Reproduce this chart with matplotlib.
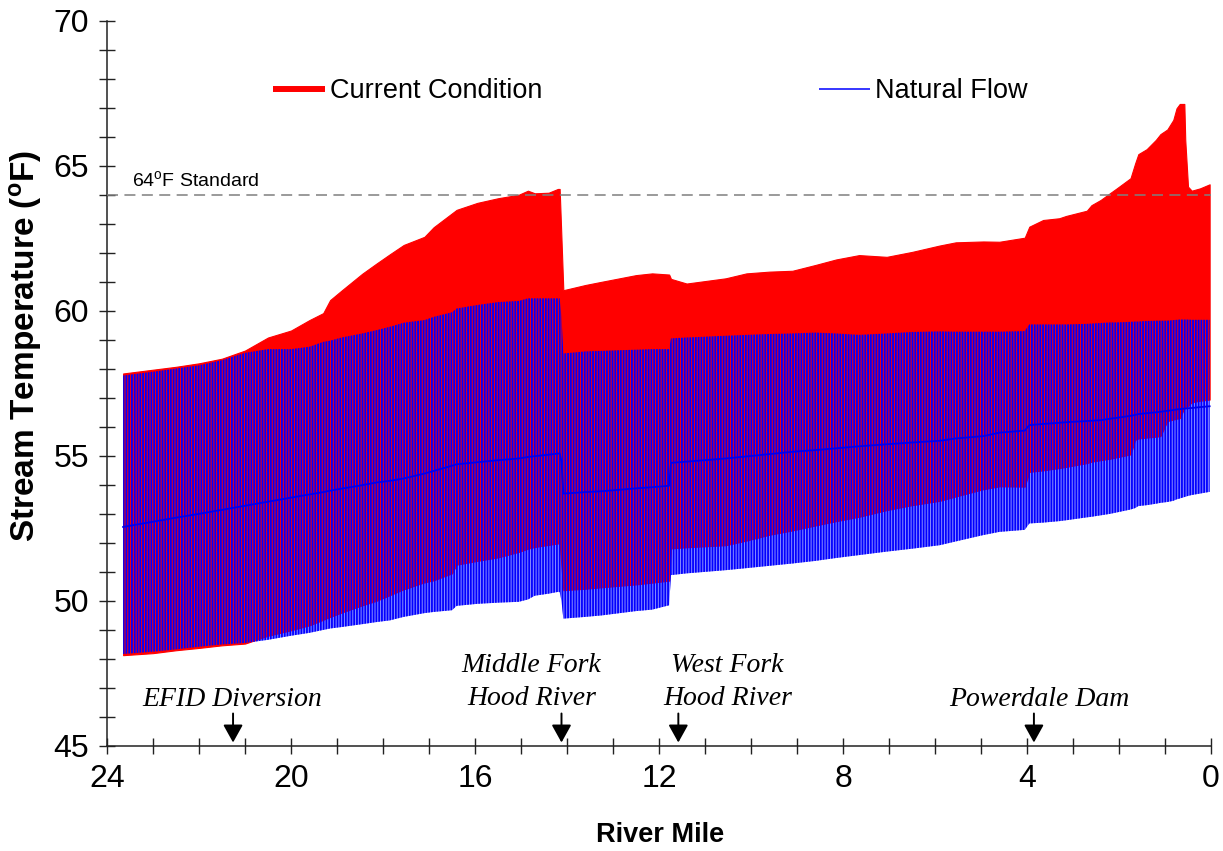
import matplotlib
matplotlib.use("Agg")
import matplotlib.pyplot as plt
from matplotlib.lines import Line2D
from matplotlib.ticker import MultipleLocator

plt.rcParams['font.family'] = ['Liberation Sans', 'DejaVu Sans']
plt.rcParams['mathtext.fontset'] = 'custom'
plt.rcParams['mathtext.rm'] = 'Liberation Sans'
plt.rcParams['mathtext.bf'] = 'Liberation Sans:bold'
plt.rcParams['mathtext.it'] = 'Liberation Sans:italic'
plt.rcParams['hatch.color'] = '#0000ff'
plt.rcParams['hatch.linewidth'] = 1.3

# ---------------- data (river mile stations, deg F) ----------------
miles = [23.65, 23.0, 22.5, 22.0, 21.5, 21.0, 20.5, 20.0, 19.6, 19.3, 19.15, 18.9,
         18.45, 18.15, 17.85, 17.55, 17.1, 16.9, 16.5, 16.4, 15.95, 15.5, 15.05,
         14.85, 14.7, 14.4, 14.2, 14.16, 14.12, 14.08, 13.6, 13.25, 12.5, 12.15,
         11.78, 11.74, 11.4, 10.55, 10.1, 9.6, 9.1, 8.6, 8.15, 7.65, 7.05, 6.5,
         5.9, 5.55, 4.95, 4.6, 4.05, 3.95, 3.65, 3.3, 3.15, 2.7, 2.6, 2.4, 2.2,
         2.05, 1.75, 1.65, 1.58, 1.4, 1.2, 1.1, 0.95, 0.82, 0.75, 0.68, 0.58,
         0.56, 0.5, 0.42, 0.24, 0.03]

current_max = [57.84, 57.97, 58.07, 58.19, 58.35, 58.63, 59.08, 59.32, 59.68, 59.92,
               60.37, 60.70, 61.28, 61.62, 61.95, 62.27, 62.55, 62.88, 63.36, 63.48,
               63.72, 63.88, 64.00, 64.14, 64.05, 64.07, 64.20, 64.20, 62.46, 60.71,
               60.89, 61.00, 61.23, 61.29, 61.25, 61.10, 60.94, 61.12, 61.29, 61.35,
               61.38, 61.58, 61.77, 61.92, 61.86, 62.03, 62.25, 62.36, 62.39, 62.38,
               62.52, 62.90, 63.13, 63.19, 63.27, 63.45, 63.64, 63.82, 64.05, 64.22,
               64.57, 65.08, 65.40, 65.57, 65.89, 66.09, 66.25, 66.58, 66.98, 67.13,
               67.13, 65.89, 64.28, 64.14, 64.22, 64.36]

current_min = [48.13, 48.20, 48.30, 48.38, 48.47, 48.53, 48.80, 48.99, 49.16, 49.35,
               49.45, 49.60, 49.85, 50.00, 50.20, 50.40, 50.64, 50.71, 50.95, 51.25,
               51.38, 51.50, 51.69, 51.80, 51.86, 51.93, 51.98, 51.98, 51.17, 50.37,
               50.42, 50.47, 50.57, 50.63, 50.70, 51.81, 51.85, 51.92, 52.08, 52.28,
               52.43, 52.60, 52.75, 52.90, 53.13, 53.30, 53.45, 53.60, 53.85, 53.95,
               53.94, 54.45, 54.50, 54.58, 54.62, 54.75, 54.80, 54.85, 54.90, 54.95,
               55.05, 55.55, 55.60, 55.63, 55.66, 55.68, 56.20, 56.25, 56.28, 56.30,
               56.65, 56.68, 56.72, 56.85, 56.90, 56.94]

natural_max = [57.77, 57.90, 58.01, 58.12, 58.30, 58.55, 58.68, 58.68, 58.76, 58.93,
               58.97, 59.08, 59.22, 59.33, 59.45, 59.59, 59.68, 59.79, 59.95, 60.08,
               60.20, 60.30, 60.34, 60.43, 60.43, 60.43, 60.43, 60.43, 59.79, 58.53,
               58.60, 58.62, 58.66, 58.68, 58.68, 59.05, 59.08, 59.14, 59.17, 59.20,
               59.22, 59.25, 59.22, 59.17, 59.22, 59.27, 59.29, 59.28, 59.28, 59.28,
               59.30, 59.53, 59.53, 59.53, 59.53, 59.55, 59.56, 59.58, 59.60, 59.60,
               59.62, 59.63, 59.63, 59.65, 59.66, 59.66, 59.66, 59.68, 59.69, 59.70,
               59.70, 59.70, 59.70, 59.69, 59.69, 59.69]

natural_mean = [52.55, 52.73, 52.87, 53.00, 53.14, 53.28, 53.42, 53.56, 53.67, 53.75,
                53.80, 53.87, 53.99, 54.08, 54.14, 54.22, 54.39, 54.48, 54.66, 54.71,
                54.78, 54.85, 54.91, 54.96, 54.99, 55.04, 55.08, 55.08, 54.80, 53.70,
                53.75, 53.78, 53.88, 53.92, 53.97, 54.76, 54.80, 54.91, 54.98, 55.06,
                55.14, 55.20, 55.26, 55.33, 55.40, 55.46, 55.52, 55.60, 55.68, 55.80,
                55.87, 56.06, 56.10, 56.14, 56.16, 56.20, 56.21, 56.23, 56.28, 56.31,
                56.38, 56.41, 56.44, 56.47, 56.50, 56.52, 56.55, 56.58, 56.60, 56.61,
                56.63, 56.63, 56.64, 56.65, 56.68, 56.71]

natural_min = [48.17, 48.25, 48.33, 48.42, 48.50, 48.55, 48.66, 48.80, 48.90, 49.00,
               49.05, 49.10, 49.20, 49.27, 49.33, 49.45, 49.58, 49.62, 49.68, 49.83,
               49.90, 49.94, 49.97, 50.05, 50.18, 50.25, 50.31, 50.31, 50.00, 49.39,
               49.45, 49.50, 49.65, 49.70, 49.85, 50.89, 50.95, 51.06, 51.13, 51.21,
               51.29, 51.38, 51.48, 51.58, 51.70, 51.80, 51.92, 52.05, 52.27, 52.38,
               52.45, 52.67, 52.70, 52.75, 52.78, 52.88, 52.90, 52.95, 53.00, 53.05,
               53.15, 53.20, 53.27, 53.30, 53.35, 53.38, 53.41, 53.45, 53.50, 53.53,
               53.58, 53.59, 53.62, 53.65, 53.70, 53.76]

standard_temp = 64
landmark_labels = ['EFID Diversion', 'Middle Fork\nHood River', 'West Fork\nHood River', 'Powerdale Dam']
landmark_miles = [21.26, 14.12, 11.58, 3.85]
landmark_text_x = [21.28, 14.77, 10.51, 3.74]

x_ticks = [24, 20, 16, 12, 8, 4, 0]
y_ticks = [45, 50, 55, 60, 65, 70]

# ---------------- figure ----------------
fig = plt.figure(figsize=(12.23, 8.51), dpi=100)
ax = fig.add_axes([0.0875, 0.1234, 0.9027, 0.8523])

# light backing of the natural-flow bars (visible only outside the red band)
ax.fill_between(miles, natural_min, natural_max, facecolor='#8f8fff',
                linewidth=0, zorder=1)
ax.fill_between(miles, current_min, current_max, facecolor='#ff0000',
                edgecolor='#ff0000', linewidth=0.8, zorder=2)
ax.fill_between(miles, natural_min, natural_max, facecolor='none',
                edgecolor='#0000ff', hatch='||||||', linewidth=0, zorder=3)
ax.plot(miles, natural_mean, color='#0000ee', lw=1.3, zorder=4)

ax.axhline(standard_temp, color='#7f7f7f', lw=1.1, ls=(0, (7.2, 4.2)), zorder=5)
ax.text(23.46, standard_temp + 0.15, r'64$^{\mathregular{o}}$F Standard',
        fontsize=14, ha='left', va='bottom', color='black')

# landmarks
for lab, xm, xt in zip(landmark_labels, landmark_miles, landmark_text_x):
    ax.annotate('', xy=(xm, 45.12), xytext=(xm, 46.12),
                arrowprops=dict(arrowstyle='-|>,head_length=0.45,head_width=0.25',
                                color='black', lw=1.4, mutation_scale=24,
                                shrinkA=0, shrinkB=0), zorder=6)
    if '\n' in lab:
        ax.text(xt, 47.21, lab, ha='center', va='center', fontsize=20,
                family='Liberation Serif', style='italic', linespacing=1.4)
    else:
        ax.text(xt, 46.61, lab, ha='center', va='center', fontsize=20,
                family='Liberation Serif', style='italic')

# axes
ax.set_xlim(24, 0)
ax.set_ylim(45, 70)
ax.set_xticks(x_ticks)
ax.set_xticklabels([str(v) for v in x_ticks])
ax.set_yticks(y_ticks)
ax.set_yticklabels([str(v) for v in y_ticks])
ax.xaxis.set_minor_locator(MultipleLocator(1))
ax.yaxis.set_minor_locator(MultipleLocator(1))
for s in ['top', 'right']:
    ax.spines[s].set_visible(False)
for s in ['left', 'bottom']:
    ax.spines[s].set_linewidth(1.1)
    ax.spines[s].set_color('#222222')
ax.tick_params(which='both', direction='inout', length=12, width=1.0, color='#222222')
ax.tick_params(axis='both', which='major', labelsize=23, pad=7)

ax.set_xlabel('River Mile', fontsize=19.5, fontweight='bold')
ax.set_ylabel(r'Stream Temperature ($\mathbf{^{o}}$F)', fontsize=24, fontweight='bold')
ax.xaxis.set_label_coords(0.501, -0.105)
ax.yaxis.set_label_coords(-0.057, 0.551)

handles = [Line2D([], [], color='#ff0000', lw=4.3, solid_capstyle='butt'),
           Line2D([], [], color='#0000ff', lw=1.1, solid_capstyle='butt')]
ax.legend(handles, ['Current Condition', 'Natural Flow'], loc='center left',
          bbox_to_anchor=(0.1504, 0.903), ncol=2, frameon=False, fontsize=19.5,
          handlelength=1.9, handletextpad=0.2, columnspacing=10.2,
          borderpad=0, borderaxespad=0)

fig.savefig('out.png', dpi=100)
